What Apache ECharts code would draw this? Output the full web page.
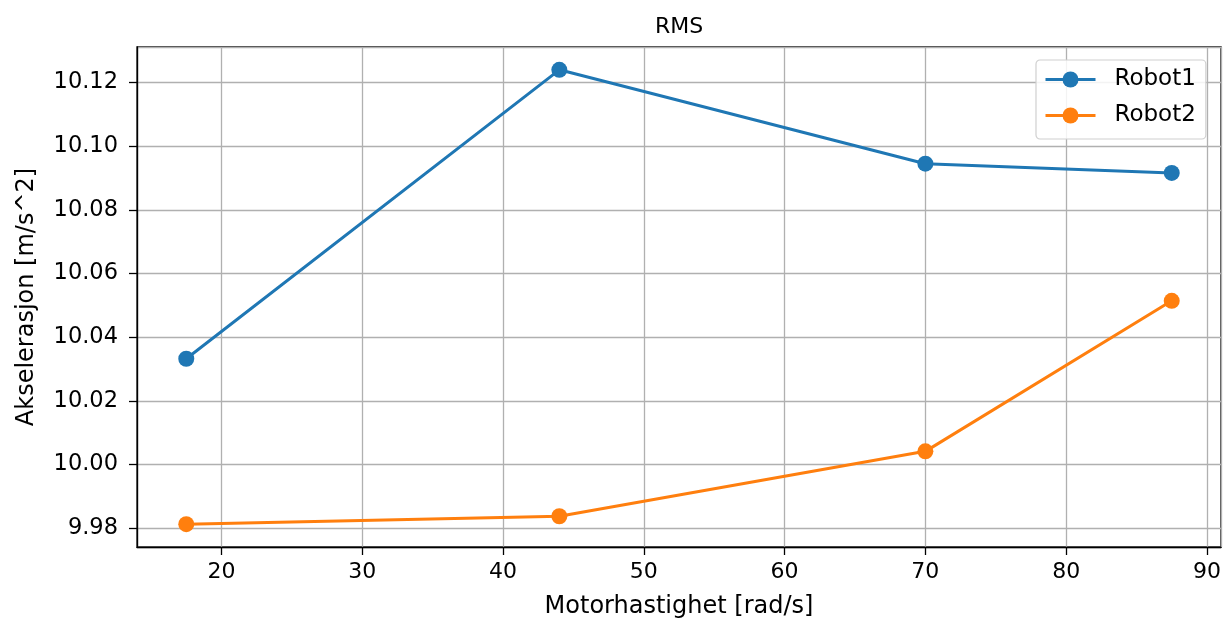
<!DOCTYPE html>
<html>
<head>
<meta charset="utf-8">
<script src="https://cdn.jsdelivr.net/npm/echarts@6/dist/echarts.min.js"></script>
<style>
html,body{margin:0;padding:0;background:#fff;}
#chart{width:1225px;height:624px;}
</style>
</head>
<body>
<div id="chart"></div>
<script>
const speeds = [17.5, 44, 70, 87.5];
const robot1 = [10.0332, 10.1240, 10.0945, 10.0916];
const robot2 = [9.9812, 9.9837, 10.0041, 10.0514];
const seriesNames = ['Robot1', 'Robot2'];
const seriesColors = ['#1f77b4', '#ff7f0e'];
const titleText = 'RMS';
const xName = 'Motorhastighet [rad/s]';
const yName = 'Akselerasjon [m/s^2]';

const font = 'DejaVu Sans';
const chart = echarts.init(document.getElementById('chart'), null, {renderer: 'canvas'});

function pairs(xs, ys) { return xs.map((x, i) => [x, ys[i]]); }

const option = {
  animation: false,
  backgroundColor: '#fff',
  title: {
    text: titleText,
    left: 655,
    top: 16,
    padding: 0,
    textStyle: {fontFamily: font, fontSize: 22, fontWeight: 'normal', color: '#000'}
  },
  legend: {
    orient: 'vertical',
    left: 1036,
    top: 60,
    padding: [8, 10, 12, 8],
    itemWidth: 50,
    itemHeight: 20,
    itemGap: 13,
    backgroundColor: 'rgba(255,255,255,0.85)',
    borderColor: '#d0d0d0',
    borderWidth: 1.2,
    borderRadius: 4,
    lineStyle: {width: 3},
    textStyle: {fontFamily: font, fontSize: 23, color: '#000', padding: [0, 0, 0, 14], lineHeight: 23},
    data: seriesNames
  },
  grid: {
    left: 137, right: 4, top: 47, bottom: 76,
    show: true, borderColor: '#000', borderWidth: 1.3, backgroundColor: 'transparent'
  },
  xAxis: {
    type: 'value',
    min: 14, max: 91,
    splitNumber: 8,
    name: xName,
    nameLocation: 'middle',
    nameGap: 48,
    nameTextStyle: {fontFamily: font, fontSize: 24, color: '#000'},
    axisLine: {show: true, lineStyle: {color: '#000', width: 1.3}},
    axisTick: {show: true, length: 8, lineStyle: {color: '#000', width: 1.3}},
    axisLabel: {fontFamily: font, fontSize: 22, color: '#000', margin: 14, showMinLabel: false, showMaxLabel: false,
      formatter: v => String(Math.round(v))},
    splitLine: {show: true, lineStyle: {color: '#b0b0b0', width: 1.3}}
  },
  yAxis: {
    type: 'value',
    min: 9.97404, max: 10.13117,
    splitNumber: 8,
    name: yName,
    nameLocation: 'middle',
    nameGap: 98,
    nameTextStyle: {fontFamily: font, fontSize: 24, color: '#000'},
    axisLine: {show: true, lineStyle: {color: '#000', width: 1.3}},
    axisTick: {show: true, length: 8, lineStyle: {color: '#000', width: 1.3}},
    axisLabel: {fontFamily: font, fontSize: 22.5, color: '#000', margin: 19, showMinLabel: false, showMaxLabel: false,
      formatter: v => v.toFixed(2)},
    splitLine: {show: true, lineStyle: {color: '#b0b0b0', width: 1.3}}
  },
  series: [
    {
      name: seriesNames[0], type: 'line', data: pairs(speeds, robot1),
      symbol: 'circle', symbolSize: 16, color: seriesColors[0],
      lineStyle: {width: 3, color: seriesColors[0]},
      itemStyle: {color: seriesColors[0]}
    },
    {
      name: seriesNames[1], type: 'line', data: pairs(speeds, robot2),
      symbol: 'circle', symbolSize: 16, color: seriesColors[1],
      lineStyle: {width: 3, color: seriesColors[1]},
      itemStyle: {color: seriesColors[1]}
    }
  ]
};
chart.setOption(option);
</script>
</body>
</html>
